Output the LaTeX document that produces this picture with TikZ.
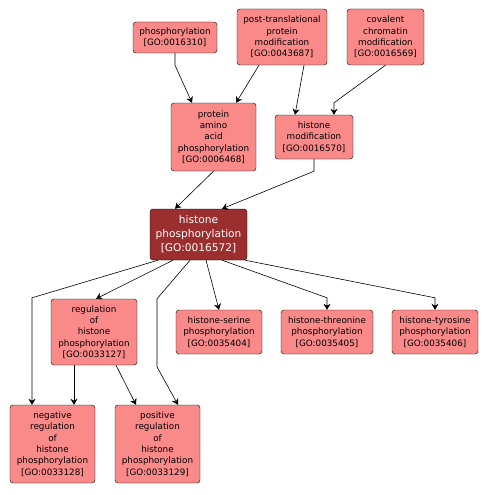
\documentclass[tikz,border=0pt]{standalone}
\usepackage{fontspec}
\setmainfont{DejaVu Sans}
\usetikzlibrary{arrows.meta,calc}
\definecolor{goFill}{HTML}{FA8A8A}
\definecolor{goDark}{HTML}{9B2E2E}
\newcommand{\goid}[1]{{[GO:#1]}}

\begin{document}
\begin{tikzpicture}[x=1pt,y=-1pt,cell/.style={draw,rounded corners=3pt,fill=goFill,align=center,inner sep=0pt,font=\fontsize{8.8}{11.3}\selectfont},arr/.style={-{Stealth[length=6pt,width=7pt]},semithick}]
\useasboundingbox (0,0) rectangle (488,495);
\node[cell,minimum width=84,minimum height=31] (phos) at (175,37.5) {phosphorylation\\\goid{0016310}};
\node[cell,minimum width=90,minimum height=56] (ptm) at (282,37) {post-translational\\protein\\modification\\\goid{0043687}};
\node[cell,minimum width=77,minimum height=56] (ccm) at (385.5,37) {covalent\\chromatin\\modification\\\goid{0016569}};
\node[cell,minimum width=85,minimum height=68] (paap) at (213.5,137) {protein\\amino\\acid\\phosphorylation\\\goid{0006468}};
\node[cell,minimum width=78,minimum height=44] (hmod) at (314,137) {histone\\modification\\\goid{0016570}};
\node[cell,fill=goDark,text=white,minimum width=97,minimum height=51,font=\fontsize{10.6}{14}\selectfont] (hphos) at (198.5,234.5) {histone\\phosphorylation\\\goid{0016572}};
\node[cell,minimum width=86,minimum height=66] (reg) at (94,332) {regulation\\of\\histone\\phosphorylation\\\goid{0033127}};
\node[cell,minimum width=86,minimum height=44] (ser) at (219,332) {histone-serine\\phosphorylation\\\goid{0035404}};
\node[cell,minimum width=92,minimum height=44] (thr) at (327,332) {histone-threonine\\phosphorylation\\\goid{0035405}};
\node[cell,minimum width=86,minimum height=44] (tyr) at (435,332) {histone-tyrosine\\phosphorylation\\\goid{0035406}};
\node[cell,minimum width=85,minimum height=78] (neg) at (52.5,444) {negative\\regulation\\of\\histone\\phosphorylation\\\goid{0033128}};
\node[cell,minimum width=85,minimum height=78] (pos) at (157.5,444) {positive\\regulation\\of\\histone\\phosphorylation\\\goid{0033129}};
% upper part
\draw[arr] (phos.south) -- ++(0,12) -- ([xshift=-21.5]paap.north);
\draw[arr] ([xshift=-23]ptm.south) -- ([xshift=22.5]paap.north);
\draw[arr] ([xshift=22]ptm.south) -- ([xshift=-19]hmod.north);
\draw[arr] (ccm.south) -- ($(hmod.north)+(20,-12)$) -- ([xshift=20]hmod.north);
\draw[arr] (paap.south) -- ([xshift=-23.5]hphos.north);
\draw[arr] (hmod.south) -- ++(0,12) -- ([xshift=23.5]hphos.north);
% lower part
\draw[arr] ([xshift=-40.5]hphos.south) -- ($(neg.north)+(-20.5,-107)$) -- ([xshift=-20.5]neg.north);
\draw[arr] ([xshift=-25.5]hphos.south) -- ([xshift=2]reg.north);
\draw[arr] ([xshift=-8.5]hphos.south) -- ($(pos.north)+(-0.5,-106)$) -- ($(pos.north)+(-0.5,-38)$) -- ([xshift=20.5]pos.north);
\draw[arr] ([xshift=7.5]hphos.south) -- (ser.north);
\draw[arr] ([xshift=23.5]hphos.south) -- ($(thr.north)+(0,-12)$) -- (thr.north);
\draw[arr] ([xshift=46.5]hphos.south) -- ($(tyr.north)+(0,-12)$) -- (tyr.north);
\draw[arr] ([xshift=-20]reg.south) -- ([xshift=21.5]neg.north);
\draw[arr] ([xshift=22]reg.south) -- ([xshift=-21.5]pos.north);
\end{tikzpicture}
\end{document}
